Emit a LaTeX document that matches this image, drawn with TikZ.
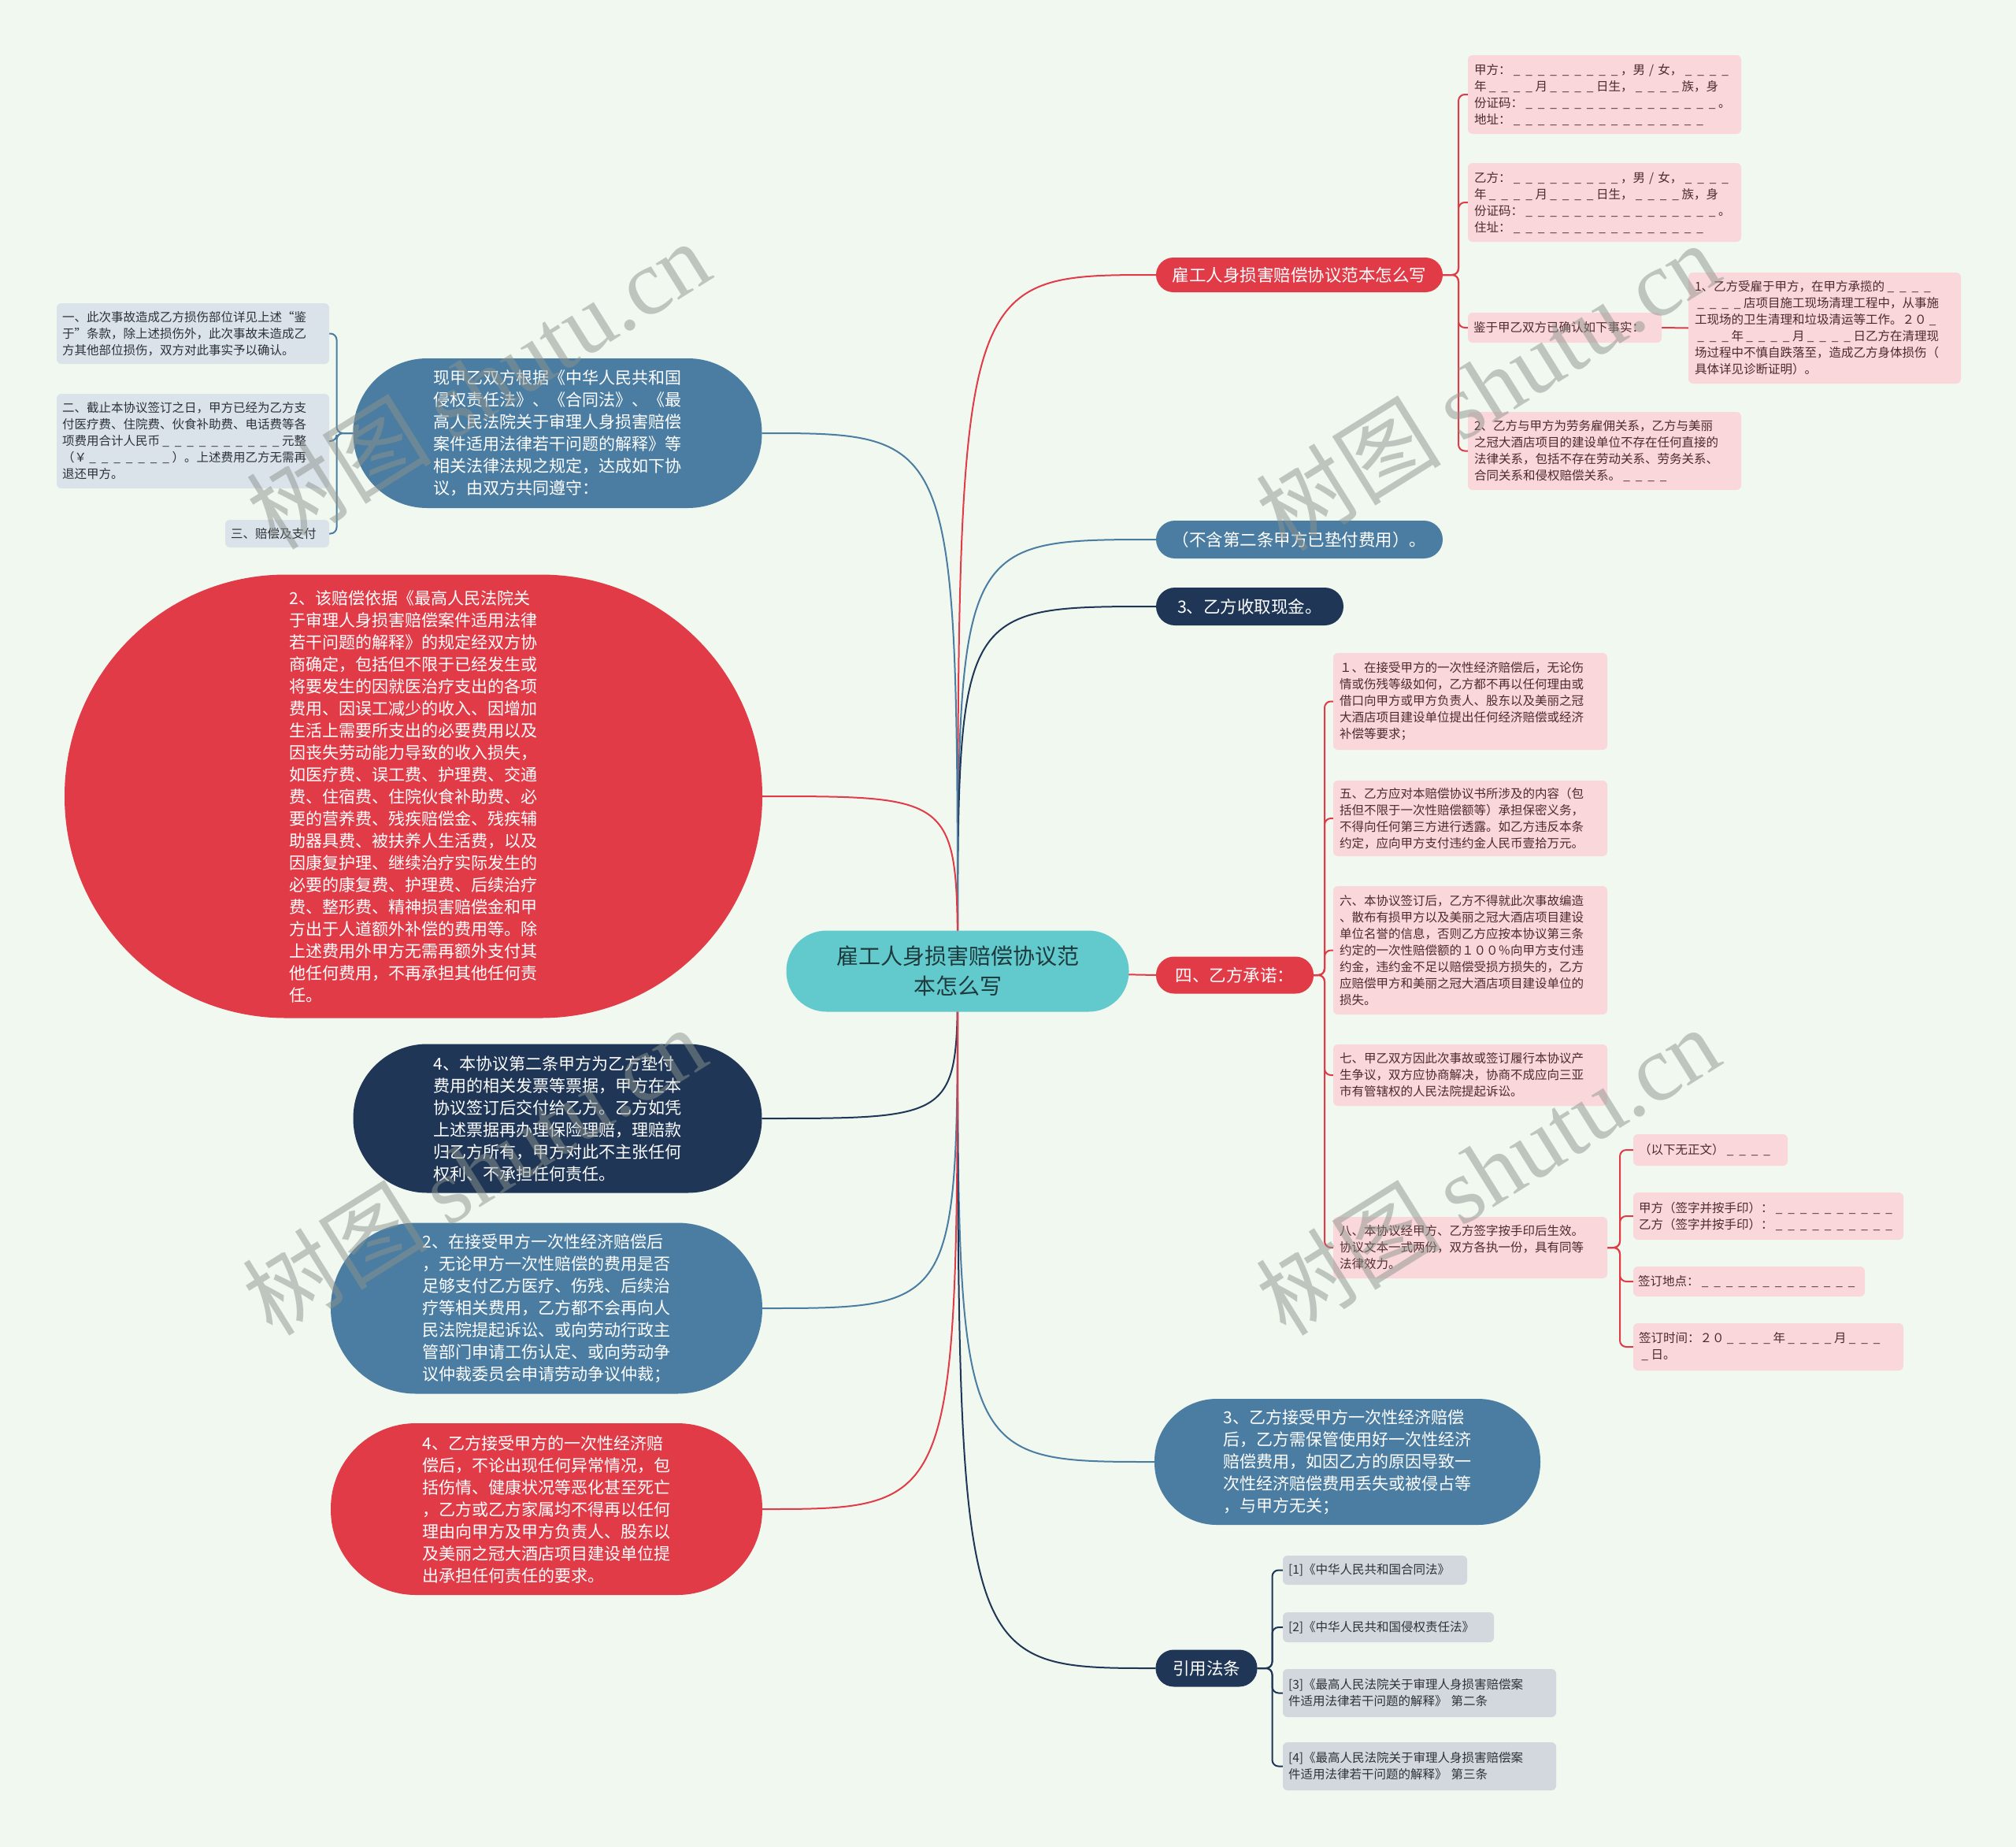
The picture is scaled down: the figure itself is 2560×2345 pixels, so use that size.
\documentclass[tikz,border=0pt]{standalone}
\usepackage{fontspec}
\setmainfont{Noto Sans CJK SC}
\newfontfamily\wmlat{Liberation Serif}
\usetikzlibrary{backgrounds}
\ExplSyntaxOn
\NewDocumentCommand\us{m}{\prg_replicate:nn{#1}{\makebox[1em][c]{\_}}}
\ExplSyntaxOff
\definecolor{cBg}{HTML}{F0F8EF}
\definecolor{cRed}{HTML}{E23B48}
\definecolor{cBlue}{HTML}{4A7DA1}
\definecolor{cNavy}{HTML}{1F3657}
\definecolor{cTeal}{HTML}{62C9CC}
\definecolor{cTealT}{HTML}{1E3A3C}
\definecolor{cPink}{HTML}{F9D7DB}
\definecolor{cPinkT}{HTML}{4E2A2C}
\definecolor{cGray}{HTML}{D3D7DE}
\definecolor{cGrayT}{HTML}{2E3238}
\definecolor{cPale}{HTML}{DAE2EA}
\definecolor{cPaleT}{HTML}{2E3238}
\definecolor{cWm}{HTML}{8E948E}
\begin{document}
\begin{tikzpicture}[x=1pt,y=-1pt,
  every node/.style={inner sep=0pt, outer sep=0pt},
  conn/.style={line width=2pt},
  pill/.style={rectangle, text=white, align=left, font=\fontsize{21.5}{28}\selectfont},
  bigtext/.style={font=\fontsize{21}{28}\selectfont},
  leaf/.style={rectangle, rounded corners=6pt, align=left, font=\fontsize{15.5}{21}\selectfont},
  pinkleaf/.style={leaf, fill=cPink, text=cPinkT},
  grayleaf/.style={leaf, fill=cGray, text=cGrayT},
  paleleaf/.style={leaf, fill=cPale, text=cPaleT},
  brk/.style={conn, rounded corners=8pt},
  wm/.style={text=cWm, text opacity=0.5, font=\fontsize{118}{118}\selectfont, rotate=32, anchor=base west}
]
\begin{scope}[on background layer]
\fill[cBg] (0,0) rectangle (2560,2345);
\end{scope}
\useasboundingbox (0,0) rectangle (2560,2345);

% root
\node[rectangle, fill=cTeal, text=cTealT, rounded corners=51pt, minimum width=435pt, minimum height=103pt, align=center, font=\fontsize{28}{38}\selectfont] (root) at (1216,1233) {雇工人身损害赔偿协议范\\本怎么写};

% right main branches
\node[pill, fill=cRed, rounded corners=22pt, minimum width=364pt, minimum height=44pt] (R1) at (1650,349) {雇工人身损害赔偿协议范本怎么写};
\node[pill, fill=cBlue, rounded corners=24pt, minimum width=364pt, minimum height=48pt] (R2) at (1650,685) {（不含第二条甲方已垫付费用）。};
\node[pill, fill=cNavy, rounded corners=24pt, minimum width=238pt, minimum height=48pt] (R3) at (1587,770) {3、乙方收取现金。};
\node[pill, fill=cRed, rounded corners=23pt, minimum width=200pt, minimum height=47pt] (R4) at (1568,1238) {四、乙方承诺：};
\node[pill, bigtext, fill=cBlue, rounded corners=79pt, minimum width=490pt, minimum height=160pt] (R5) at (1711,1856) {3、乙方接受甲方一次性经济赔偿\\后，乙方需保管使用好一次性经济\\赔偿费用，如因乙方的原因导致一\\次性经济赔偿费用丢失或被侵占等\\，与甲方无关；};
\node[pill, fill=cNavy, rounded corners=23pt, minimum width=129pt, minimum height=47pt] (R6) at (1532,2118) {引用法条};

% left main branches
\node[pill, bigtext, fill=cBlue, rounded corners=94pt, minimum width=519pt, minimum height=190pt] (L1) at (708,550) {现甲乙双方根据《中华人民共和国\\侵权责任法》、《合同法》、《最\\高人民法院关于审理人身损害赔偿\\案件适用法律若干问题的解释》等\\相关法律法规之规定，达成如下协\\议，由双方共同遵守：};
\node[pill, bigtext, fill=cRed, rounded corners=281pt, minimum width=886pt, minimum height=563pt] (L2) at (525,1011) {2、该赔偿依据《最高人民法院关\\于审理人身损害赔偿案件适用法律\\若干问题的解释》的规定经双方协\\商确定，包括但不限于已经发生或\\将要发生的因就医治疗支出的各项\\费用、因误工减少的收入、因增加\\生活上需要所支出的必要费用以及\\因丧失劳动能力导致的收入损失，\\如医疗费、误工费、护理费、交通\\费、住宿费、住院伙食补助费、必\\要的营养费、残疾赔偿金、残疾辅\\助器具费、被扶养人生活费，以及\\因康复护理、继续治疗实际发生的\\必要的康复费、护理费、后续治疗\\费、整形费、精神损害赔偿金和甲\\方出于人道额外补偿的费用等。除\\上述费用外甲方无需再额外支付其\\他任何费用，不再承担其他任何责\\任。};
\node[pill, bigtext, fill=cNavy, rounded corners=94pt, minimum width=519pt, minimum height=189pt] (L3) at (708,1420) {4、本协议第二条甲方为乙方垫付\\费用的相关发票等票据，甲方在本\\协议签订后交付给乙方。乙方如凭\\上述票据再办理保险理赔，理赔款\\归乙方所有，甲方对此不主张任何\\权利、不承担任何责任。};
\node[pill, bigtext, fill=cBlue, rounded corners=108pt, minimum width=548pt, minimum height=217pt] (L4) at (694,1661) {2、在接受甲方一次性经济赔偿后\\，无论甲方一次性赔偿的费用是否\\足够支付乙方医疗、伤残、后续治\\疗等相关费用，乙方都不会再向人\\民法院提起诉讼、或向劳动行政主\\管部门申请工伤认定、或向劳动争\\议仲裁委员会申请劳动争议仲裁；};
\node[pill, bigtext, fill=cRed, rounded corners=108pt, minimum width=548pt, minimum height=218pt] (L5) at (694,1916) {4、乙方接受甲方的一次性经济赔\\偿后，不论出现任何异常情况，包\\括伤情、健康状况等恶化甚至死亡\\，乙方或乙方家属均不得再以任何\\理由向甲方及甲方负责人、股东以\\及美丽之冠大酒店项目建设单位提\\出承担任何责任的要求。};

% R1 children
\node[pinkleaf, minimum width=347pt, minimum height=100pt, text width=331pt] (A1) at (2037.5,120) {甲方：\us{9}，男 / 女，\us{4}\\年\us{4}月\us{4}日生，\us{4}族，身\\份证码：\us{16}。\\地址：\us{16}};
\node[pinkleaf, minimum width=347pt, minimum height=100pt, text width=331pt] (A2) at (2037.5,257) {乙方：\us{9}，男 / 女，\us{4}\\年\us{4}月\us{4}日生，\us{4}族，身\\份证码：\us{16}。\\住址：\us{16}};
\node[pinkleaf, minimum width=246pt, minimum height=38pt, text width=232pt] (A3) at (1987,416) {鉴于甲乙双方已确认如下事实：};
\node[pinkleaf, minimum width=346pt, minimum height=141pt, text width=330pt] (A31) at (2317,416.5) {1、乙方受雇于甲方，在甲方承揽的\us{4}\\\us{4}店项目施工现场清理工程中，从事施\\工现场的卫生清理和垃圾清运等工作。２０\us{1}\\\us{3}年\us{4}月\us{4}日乙方在清理现\\场过程中不慎自跌落至，造成乙方身体损伤（\\具体详见诊断证明）。};
\node[pinkleaf, minimum width=347pt, minimum height=99pt, text width=331pt] (A4) at (2037.5,572.5) {2、乙方与甲方为劳务雇佣关系，乙方与美丽\\之冠大酒店项目的建设单位不存在任何直接的\\法律关系，包括不存在劳动关系、劳务关系、\\合同关系和侵权赔偿关系。\us{4}};

% R4 children
\node[pinkleaf, minimum width=348pt, minimum height=123pt, text width=332pt] (E1) at (1867,890.5) {１、在接受甲方的一次性经济赔偿后，无论伤\\情或伤残等级如何，乙方都不再以任何理由或\\借口向甲方或甲方负责人、股东以及美丽之冠\\大酒店项目建设单位提出任何经济赔偿或经济\\补偿等要求；};
\node[pinkleaf, minimum width=348pt, minimum height=96pt, text width=332pt] (E2) at (1867,1039) {五、乙方应对本赔偿协议书所涉及的内容（包\\括但不限于一次性赔偿额等）承担保密义务，\\不得向任何第三方进行透露。如乙方违反本条\\约定，应向甲方支付违约金人民币壹拾万元。};
\node[pinkleaf, minimum width=348pt, minimum height=163pt, text width=332pt] (E3) at (1867,1206.5) {六、本协议签订后，乙方不得就此次事故编造\\、散布有损甲方以及美丽之冠大酒店项目建设\\单位名誉的信息，否则乙方应按本协议第三条\\约定的一次性赔偿额的１００％向甲方支付违\\约金，违约金不足以赔偿受损方损失的，乙方\\应赔偿甲方和美丽之冠大酒店项目建设单位的\\损失。};
\node[pinkleaf, minimum width=348pt, minimum height=78pt, text width=332pt] (E4) at (1867,1365) {七、甲乙双方因此次事故或签订履行本协议产\\生争议，双方应协商解决，协商不成应向三亚\\市有管辖权的人民法院提起诉讼。};
\node[pinkleaf, minimum width=348pt, minimum height=78pt, text width=332pt] (E5) at (1867,1584) {八、本协议经甲方、乙方签字按手印后生效。\\协议文本一式两份，双方各执一份，具有同等\\法律效力。};

% E5 children
\node[pinkleaf, minimum width=196pt, minimum height=40pt, text width=182pt] (F1) at (2172,1460) {（以下无正文）\us{4}};
\node[pinkleaf, minimum width=343pt, minimum height=60pt, text width=329pt] (F2) at (2245.5,1544) {甲方（签字并按手印）：\us{10}\\乙方（签字并按手印）：\us{10}};
\node[pinkleaf, minimum width=294pt, minimum height=38pt, text width=282pt] (F3) at (2221,1627) {签订地点：\us{13}};
\node[pinkleaf, minimum width=343pt, minimum height=60pt, text width=329pt] (F4) at (2245.5,1710) {签订时间：２０\us{4}年\us{4}月\us{3}\\\us{1}日。};

% R6 children
\node[grayleaf, minimum width=234pt, minimum height=37pt, text width=220pt] (G1) at (1746,1993.5) {[1]《中华人民共和国合同法》};
\node[grayleaf, minimum width=268pt, minimum height=38pt, text width=254pt] (G2) at (1763,2066) {[2]《中华人民共和国侵权责任法》};
\node[grayleaf, minimum width=347pt, minimum height=61pt, text width=333pt] (G3) at (1802.5,2149.5) {[3]《最高人民法院关于审理人身损害赔偿案\\件适用法律若干问题的解释》 第二条};
\node[grayleaf, minimum width=347pt, minimum height=61pt, text width=333pt] (G4) at (1802.5,2242.5) {[4]《最高人民法院关于审理人身损害赔偿案\\件适用法律若干问题的解释》 第三条};

% L1 children
\node[paleleaf, minimum width=346pt, minimum height=77pt, text width=332pt] (H1) at (245,423.5) {一、此次事故造成乙方损伤部位详见上述“鉴\\于”条款，除上述损伤外，此次事故未造成乙\\方其他部位损伤，双方对此事实予以确认。};
\node[paleleaf, minimum width=346pt, minimum height=120pt, text width=332pt] (H2) at (245,560) {二、截止本协议签订之日，甲方已经为乙方支\\付医疗费、住院费、伙食补助费、电话费等各\\项费用合计人民币\us{10}元整\\（￥\us{7}）。上述费用乙方无需再\\退还甲方。};
\node[paleleaf, minimum width=132pt, minimum height=35pt, text width=118pt] (H3) at (352,677.5) {三、赔偿及支付};

% connectors
\begin{scope}[on background layer]
\draw[cRed, conn] (root.center) .. controls (root.center |- R1.west) .. (R1.west);
\draw[cBlue, conn] (root.center) .. controls (root.center |- R2.west) .. (R2.west);
\draw[cNavy, conn] (root.center) .. controls (root.center |- R3.west) .. (R3.west);
\draw[cRed, conn] (root.center) -- (R4.west);
\draw[cBlue, conn] (root.center) .. controls (root.center |- R5.west) .. (R5.west);
\draw[cNavy, conn] (root.center) .. controls (root.center |- R6.west) .. (R6.west);
\draw[cBlue, conn] (root.center) .. controls (root.center |- L1.east) .. (L1.east);
\draw[cRed, conn] (root.center) .. controls (root.center |- L2.east) .. (L2.east);
\draw[cNavy, conn] (root.center) .. controls (root.center |- L3.east) .. (L3.east);
\draw[cBlue, conn] (root.center) .. controls (root.center |- L4.east) .. (L4.east);
\draw[cRed, conn] (root.center) .. controls (root.center |- L5.east) .. (L5.east);

\foreach \c in {A1,A2,A3,A4}{\draw[cRed, brk] (R1.east) -- ++(20,0) |- (\c.west);}
\draw[cRed, conn] (A3.east) -- (A31.west);
\foreach \c in {E1,E2,E3,E4,E5}{\draw[cRed, brk] (R4.east) -- ++(14,0) |- (\c.west);}
\foreach \c in {F1,F2,F3,F4}{\draw[cRed, brk] (E5.east) -- ++(16,0) |- (\c.west);}
\foreach \c in {G1,G2,G3,G4}{\draw[cNavy, brk] (R6.east) -- ++(19,0) |- (\c.west);}
\foreach \c in {H1,H2,H3}{\draw[cBlue, brk] (L1.west) -- ++(-21,0) |- (\c.east);}
\end{scope}

% watermarks
\node[wm] (wm1) at (351,700) {树图 {\wmlat shutu.cn}};
\node[wm] (wm2) at (1633,702) {树图 {\wmlat shutu.cn}};
\node[wm] (wm3) at (346,1698) {树图 {\wmlat shutu.cn}};
\node[wm] (wm4) at (1633,1698) {树图 {\wmlat shutu.cn}};
\end{tikzpicture}
\end{document}
